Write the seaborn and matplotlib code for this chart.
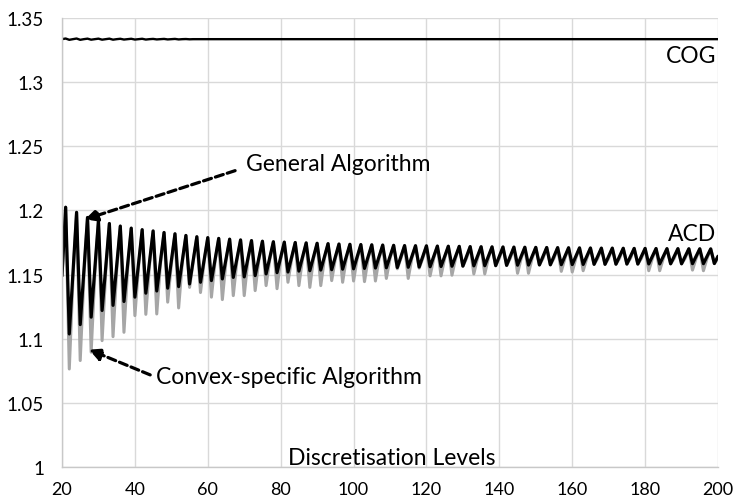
import pandas as pd
import matplotlib
matplotlib.use("Agg")
import matplotlib.pyplot as plt
import seaborn as sns

# discretisation levels: the ACD curves repeat a mid / peak / trough pattern every 3 levels
mid_levels = list(range(20, 201, 3))      # 20, 23, ..., 200
peak_levels = list(range(21, 199, 3))     # 21, 24, ..., 198
trough_levels = list(range(22, 200, 3))   # 22, 25, ..., 199

general_peaks = [1.2025, 1.1985, 1.1945, 1.1920, 1.1898, 1.1878, 1.1862, 1.1850, 1.1840, 1.1828,
                 1.1818, 1.1805, 1.1795, 1.1788, 1.1782, 1.1776, 1.1770, 1.1765, 1.1760, 1.1756,
                 1.1753, 1.1750, 1.1747, 1.1744, 1.1741, 1.1738, 1.1736, 1.1734, 1.1732, 1.1730,
                 1.1728, 1.1726, 1.1725, 1.1724, 1.1722, 1.1721, 1.1720, 1.1718, 1.1717, 1.1716,
                 1.1715, 1.1714, 1.1713, 1.1712, 1.1711, 1.1710, 1.1709, 1.1708, 1.1707, 1.1706,
                 1.1706, 1.1705, 1.1704, 1.1704, 1.1703, 1.1702, 1.1702, 1.1701, 1.1701, 1.1700]
general_troughs = [1.1037, 1.1110, 1.1168, 1.1220, 1.1260, 1.1290, 1.1324, 1.1355, 1.1372, 1.1394,
                   1.1406, 1.1427, 1.1440, 1.1453, 1.1466, 1.1478, 1.1482, 1.1492, 1.1505, 1.1515,
                   1.1520, 1.1527, 1.1530, 1.1535, 1.1538, 1.1542, 1.1545, 1.1548, 1.1551, 1.1553,
                   1.1555, 1.1557, 1.1559, 1.1561, 1.1563, 1.1565, 1.1566, 1.1568, 1.1569, 1.1570,
                   1.1572, 1.1573, 1.1574, 1.1575, 1.1576, 1.1577, 1.1578, 1.1579, 1.1580, 1.1580,
                   1.1581, 1.1582, 1.1582, 1.1583, 1.1583, 1.1584, 1.1584, 1.1585, 1.1585, 1.1586]
general_mids = [1.1490, 1.1511, 1.1528, 1.1544, 1.1559, 1.1569, 1.1576, 1.1587, 1.1598, 1.1600,
                1.1606, 1.1606, 1.1611, 1.1614, 1.1618, 1.1621, 1.1624, 1.1624, 1.1626, 1.1631,
                1.1634, 1.1635, 1.1637, 1.1637, 1.1638, 1.1638, 1.1639, 1.1640, 1.1640, 1.1641,
                1.1641, 1.1641, 1.1642, 1.1642, 1.1642, 1.1642, 1.1642, 1.1642, 1.1643, 1.1643,
                1.1643, 1.1643, 1.1643, 1.1643, 1.1643, 1.1643, 1.1643, 1.1643, 1.1643, 1.1643,
                1.1643, 1.1643, 1.1643, 1.1643, 1.1643, 1.1643, 1.1643, 1.1643, 1.1643, 1.1643,
                1.1643]

# convex-specific peaks sit under the general ones, only the troughs go deeper
convex_peaks = general_peaks
convex_troughs = [1.0764, 1.0830, 1.0895, 1.0985, 1.1016, 1.1050, 1.1180, 1.1190, 1.1193, 1.1285,
                  1.1240, 1.1400, 1.1360, 1.1324, 1.1305, 1.1336, 1.1336, 1.1375, 1.1414, 1.1390,
                  1.1440, 1.1414, 1.1400, 1.1414, 1.1453, 1.1440, 1.1450, 1.1445, 1.1450, 1.1470,
                  1.1545, 1.1470, 1.1550, 1.1490, 1.1490, 1.1495, 1.1565, 1.1505, 1.1505, 1.1568,
                  1.1570, 1.1510, 1.1510, 1.1576, 1.1577, 1.1525, 1.1520, 1.1530, 1.1580, 1.1580,
                  1.1581, 1.1582, 1.1582, 1.1530, 1.1530, 1.1584, 1.1584, 1.1535, 1.1530, 1.1586]
convex_mids = [1.1490, 1.1460, 1.1480, 1.1500, 1.1520, 1.1530, 1.1540, 1.1560, 1.1570, 1.1580,
               1.1580, 1.1590, 1.1600, 1.1600, 1.1603, 1.1606, 1.1609, 1.1609, 1.1611, 1.1616,
               1.1619, 1.1620, 1.1622, 1.1622, 1.1623, 1.1623, 1.1624, 1.1625, 1.1625, 1.1626,
               1.1626, 1.1627, 1.1627, 1.1627, 1.1627, 1.1627, 1.1627, 1.1627, 1.1627, 1.1627,
               1.1627, 1.1627, 1.1627, 1.1627, 1.1627, 1.1627, 1.1627, 1.1627, 1.1627, 1.1627,
               1.1627, 1.1627, 1.1627, 1.1627, 1.1627, 1.1627, 1.1627, 1.1627, 1.1627, 1.1627,
               1.1627]

# COG: flat line with a tiny ripple over the first levels
cog_levels = list(range(20, 58)) + [200]
cog_values = [1.3335, 1.3340, 1.3330, 1.3335, 1.3340, 1.3330, 1.3335, 1.3339, 1.3331, 1.3335,
              1.3339, 1.3331, 1.3335, 1.3339, 1.3331, 1.3335, 1.3338, 1.3332, 1.3335, 1.3338,
              1.3332, 1.3335, 1.3338, 1.3332, 1.3335, 1.3337, 1.3333, 1.3335, 1.3337, 1.3333,
              1.3335, 1.3337, 1.3333, 1.3335, 1.3336, 1.3334, 1.3335, 1.3335, 1.3335]

xticks = [20, 40, 60, 80, 100, 120, 140, 160, 180, 200]
yticks = [1.0, 1.05, 1.1, 1.15, 1.2, 1.25, 1.3, 1.35]
ytick_labels = ["1", "1.05", "1.1", "1.15", "1.2", "1.25", "1.3", "1.35"]


def acd_frame(mids, peaks, troughs):
    df = pd.DataFrame({
        "level": mid_levels + peak_levels + trough_levels,
        "value": mids + peaks + troughs,
    })
    return df.sort_values("level")


general = acd_frame(general_mids, general_peaks, general_troughs)
convex = acd_frame(convex_mids, convex_peaks, convex_troughs)
cog = pd.DataFrame({"level": cog_levels, "value": cog_values})

sns.set_theme(style="whitegrid")
plt.rcParams["font.family"] = ["Lato", "DejaVu Sans"]

fig = plt.figure(figsize=(7.34, 5.02), dpi=100)
ax = fig.add_axes([62 / 734, 34 / 502, 656 / 734, 449 / 502])

sns.lineplot(data=convex, x="level", y="value", ax=ax, color="#a6a6a6", lw=2.2, sort=False)
sns.lineplot(data=general, x="level", y="value", ax=ax, color="black", lw=2.3, sort=False)
sns.lineplot(data=cog, x="level", y="value", ax=ax, color="black", lw=1.7, sort=False)

ax.set_xlim(20, 200)
ax.set_ylim(1, 1.35)
ax.set_xticks(xticks)
ax.set_yticks(yticks)
ax.set_yticklabels(ytick_labels)
ax.set_xlabel("")
ax.set_ylabel("")
ax.grid(True, color="#d9d9d9", lw=1)
ax.set_facecolor("white")
for side in ["top", "right"]:
    ax.spines[side].set_visible(False)
for side in ["left", "bottom"]:
    ax.spines[side].set_color("#c8c8c8")
    ax.spines[side].set_linewidth(1)
ax.tick_params(axis="x", length=0, pad=10, labelsize=13, colors="black")
ax.tick_params(axis="y", length=0, pad=13, labelsize=13.5, colors="black")

txt = dict(fontsize=16.5, color="black")
ax.text(110.4, 1.002, "Discretisation Levels", ha="center", va="baseline", **txt)
ax.text(199.5, 1.3206, "COG", ha="right", va="center", **txt)
ax.text(199.5, 1.1817, "ACD", ha="right", va="center", **txt)
ax.text(70.5, 1.2363, "General Algorithm", ha="left", va="center", **txt)
ax.text(45.7, 1.0702, "Convex-specific Algorithm", ha="left", va="center", **txt)

arrow = dict(arrowstyle="-|>,head_length=0.6,head_width=0.3", color="black", lw=2.3,
             linestyle=(0, (2.6, 1.3)), shrinkA=0, shrinkB=0)
ax.annotate("", xy=(26.3, 1.193), xytext=(67.5, 1.231), arrowprops=arrow)
ax.annotate("", xy=(27.4, 1.0915), xytext=(44.2, 1.0718), arrowprops=arrow)

fig.savefig("out.png", dpi=100, facecolor="white")
